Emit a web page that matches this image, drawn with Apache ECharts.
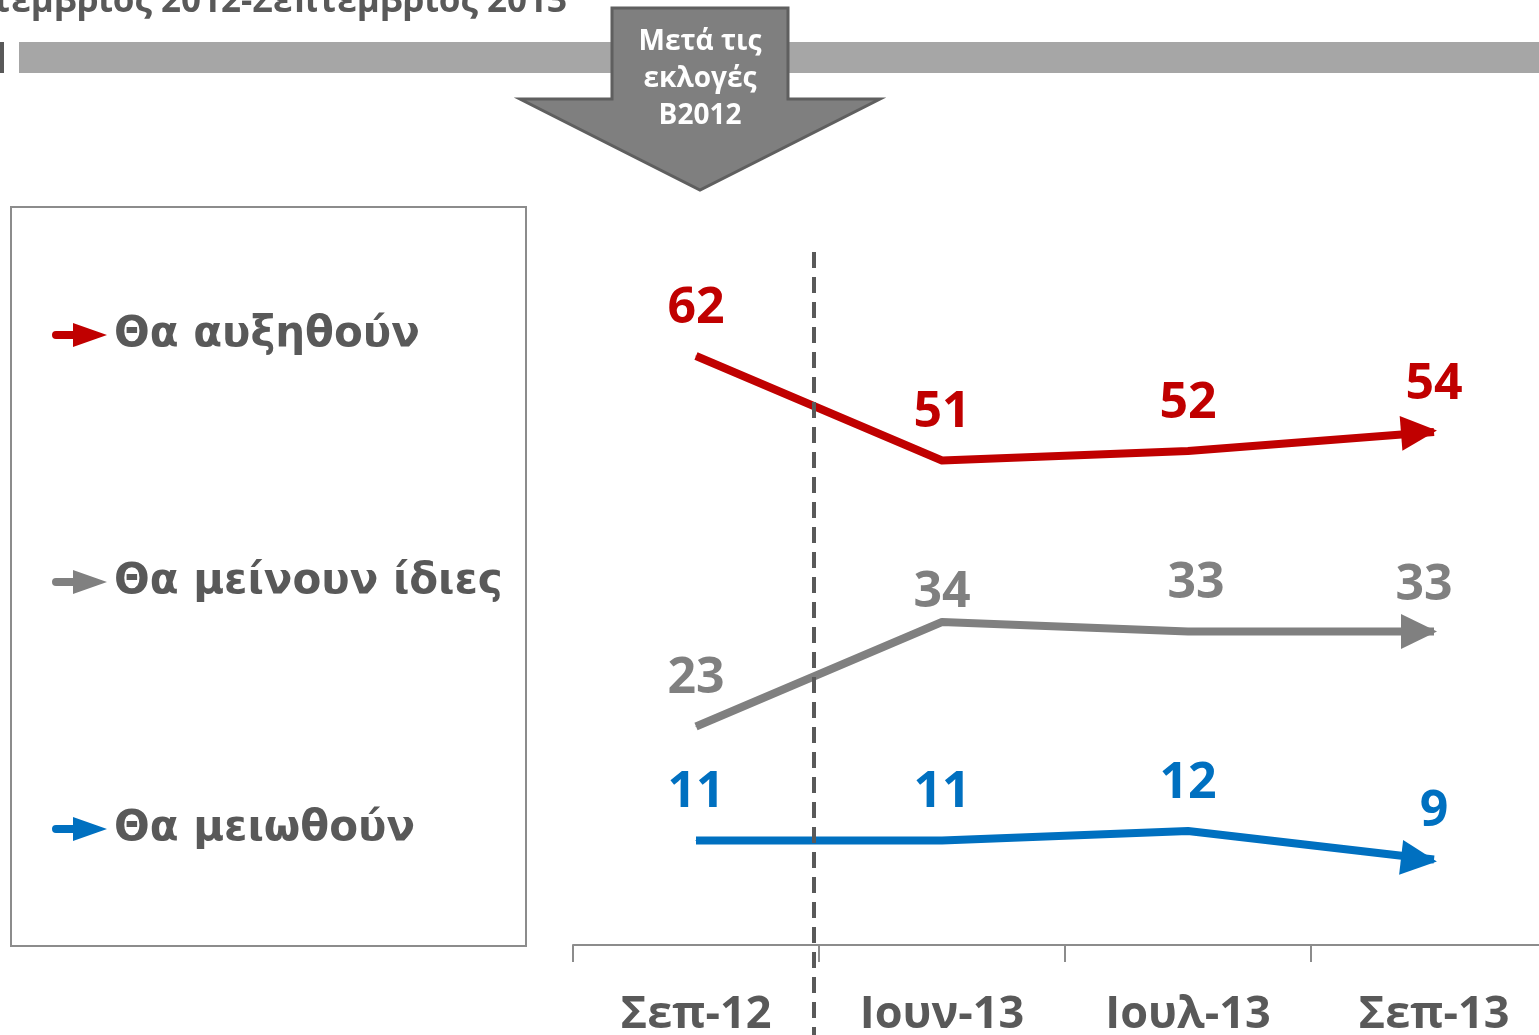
<!DOCTYPE html>
<html>
<head>
<meta charset="utf-8">
<script src="https://cdn.jsdelivr.net/npm/echarts@6/dist/echarts.min.js"></script>
<style>
html,body{margin:0;padding:0;background:#fff;}
#main{width:1539px;height:1035px;}
</style>
</head>
<body>
<div id="main"></div>
<script>
// κατηγορίες / σειρές
var categories = ['Σεπ-12', 'Ιουν-13', 'Ιουλ-13', 'Σεπ-13'];
var seriesNames = ['Θα αυξηθούν', 'Θα μείνουν ίδιες', 'Θα μειωθούν'];
var increaseVals = [62, 51, 52, 54];
var sameVals = [23, 34, 33, 33];
var decreaseVals = [11, 11, 12, 9];
var seriesColors = ['#C00000', '#808080', '#0070C0'];

var arrowPath = 'path://M0,0 L36,17.5 L0,35 Z';
var legendIcon = 'path://M4,8 L21,8 L21,0 L55,12 L21,24 L21,16 L4,16 A4,4 0 0 1 4,8 Z';
var labelFont = '"Open Sans", sans-serif';

function buildData(vals, rot, extra){
	var out = [];
	for (var i = 0; i < vals.length; i++) {
		var item = {value: vals[i]};
		if (extra && extra[i]) {
			item.label = extra[i];
		}
		if (i === vals.length - 1) {
			item.symbol = arrowPath;
			item.symbolSize = [36, 35];
			item.symbolRotate = rot || 0;
			item.symbolOffset = [-15, 0];
			item.label = Object.assign({distance: 3, offset: [15, 0]}, item.label || {});
		}
		out.push(item);
	}
	return out;
}

function makeSeries(rots){
	var vals = [increaseVals, sameVals, decreaseVals];
	var extras = [
		null,
		[null, {offset: [0, 18]}, {offset: [8, 0]}, {offset: [5, 0]}],
		null
	];
	var list = [];
	for (var s = 0; s < vals.length; s++) {
		list.push({
			name: seriesNames[s],
			type: 'line',
			data: buildData(vals[s], rots[s], extras[s]),
			symbol: 'circle',
			symbolSize: 1,
			itemStyle: {color: seriesColors[s], borderWidth: 0},
			lineStyle: {color: seriesColors[s], width: 8, cap: 'butt', join: 'round'},
			label: {
				show: true,
				position: 'top',
				distance: 22,
				color: seriesColors[s],
				fontSize: 50,
				fontWeight: 'bold',
				fontFamily: labelFont
			},
			emphasis: {disabled: true},
			animation: false,
			z: 3
		});
	}
	return list;
}

var chart = echarts.init(document.getElementById('main'), null, {renderer: 'canvas'});

var option = {
	backgroundColor: '#fff',
	animation: false,
	grid: {left: 573, top: 280, width: 984, height: 665, outerBoundsMode: 'none', containLabel: false},
	legend: {
		orient: 'vertical',
		left: 47,
		top: 309,
		itemGap: 205,
		itemWidth: 55,
		itemHeight: 24,
		icon: legendIcon,
		selectedMode: false,
		itemStyle: {borderWidth: 0},
		textStyle: {
			color: '#595959',
			fontSize: 42,
			fontWeight: 'bold',
			fontFamily: '"DejaVu Sans", sans-serif',
			padding: [0, 0, 0, 2]
		},
		data: seriesNames
	},
	xAxis: {
		type: 'category',
		data: categories,
		boundaryGap: true,
		axisLine: {lineStyle: {color: '#8c8c8c', width: 2}},
		axisTick: {show: true, length: 17, lineStyle: {color: '#8c8c8c', width: 2}},
		axisLabel: {
			margin: 48,
			color: '#595959',
			fontSize: 45,
			fontWeight: 'bold',
			fontFamily: labelFont
		},
		splitLine: {show: false}
	},
	yAxis: {
		type: 'value',
		min: 0,
		max: 70,
		show: false
	},
	graphic: [
		{type: 'rect', shape: {x: 11, y: 207, width: 515, height: 739}, style: {fill: 'none', stroke: '#8c8c8c', lineWidth: 2}},
		{type: 'rect', shape: {x: 19, y: 42, width: 1520, height: 31}, style: {fill: '#A6A6A6'}},
		{type: 'rect', shape: {x: 0, y: 42, width: 4, height: 31}, style: {fill: '#595959'}},
		{type: 'text', x: 567, y: 2, style: {
			text: 'Σεπτέμβριος 2012-Σεπτέμβριος 2013',
			align: 'right', verticalAlign: 'middle',
			fill: '#595959', font: 'bold 35px "Open Sans", sans-serif'
		}},
		{type: 'polygon', z: 10, shape: {points: [[612, 8], [788, 8], [788, 99], [880, 99], [700, 190], [520, 99], [612, 99]]},
			style: {fill: '#7F7F7F', stroke: '#5f5f5f', lineWidth: 3}},
		{type: 'text', z: 11, x: 700, y: 79, style: {
			text: 'Μετά τις\nεκλογές\nB2012',
			align: 'center', verticalAlign: 'middle',
			fill: '#fff', font: 'bold 28px "Open Sans", sans-serif', lineHeight: 37
		}},
		{type: 'line', z: 20, shape: {x1: 814, y1: 252, x2: 814, y2: 1035},
			style: {stroke: '#595959', lineWidth: 4, lineDash: [16, 9]}}
	],
	series: makeSeries([0, 0, 0])
};
chart.setOption(option);

// γωνία του βέλους στο τελευταίο τμήμα κάθε γραμμής
var allVals = [increaseVals, sameVals, decreaseVals];
var rots = [];
for (var s = 0; s < allVals.length; s++) {
	var n = allVals[s].length;
	var p0 = chart.convertToPixel({seriesIndex: s}, [n - 2, allVals[s][n - 2]]);
	var p1 = chart.convertToPixel({seriesIndex: s}, [n - 1, allVals[s][n - 1]]);
	rots.push(Math.atan2(p0[1] - p1[1], p1[0] - p0[0]) * 180 / Math.PI);
}
chart.setOption({series: makeSeries(rots)});
</script>
</body>
</html>
